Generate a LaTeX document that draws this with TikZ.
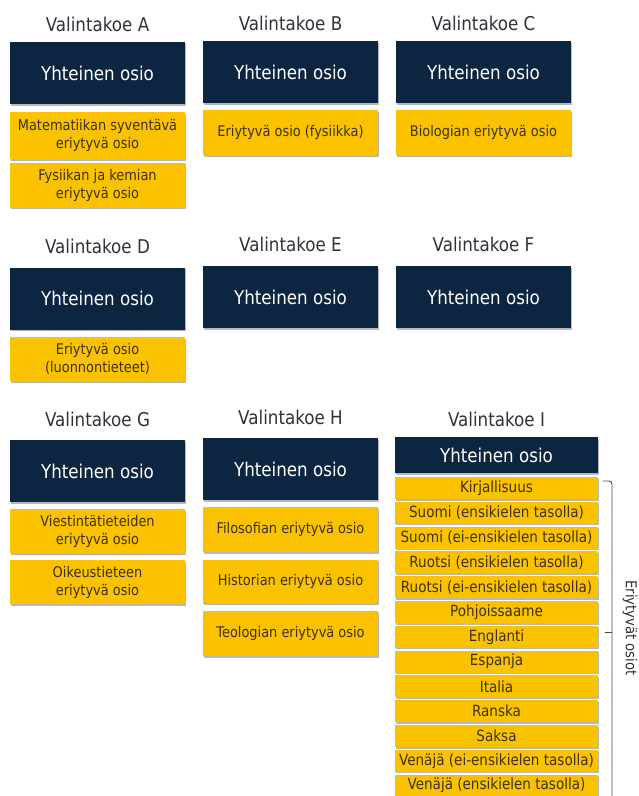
\documentclass[tikz,border=0pt]{standalone}
\usepackage{fontspec}
\setmainfont[FakeStretch=0.88]{DejaVu Sans}
\usetikzlibrary{shadows}
\definecolor{navy}{RGB}{12,38,66}
\definecolor{gold}{RGB}{250,194,0}
\definecolor{goldtext}{RGB}{62,50,18}
\definecolor{titletext}{RGB}{46,50,58}
\definecolor{bracecol}{RGB}{70,70,70}
\tikzset{
  sh/.style={drop shadow={shadow xshift=0.8pt, shadow yshift=-1.6pt, opacity=0.28, fill=black}},
  title/.style={text=titletext, inner sep=0pt, font=\fontsize{19}{22}\selectfont},
  common/.style={sh, fill=navy, text=white, minimum width=175pt, minimum height=62pt,
    inner sep=0pt, font=\fontsize{19}{22}\selectfont},
  part/.style={sh, fill=gold, text=goldtext, minimum width=175pt, inner sep=0pt,
    align=center, font=\fontsize{14.7}{18}\selectfont},
  irow/.style={sh, fill=gold, text=goldtext, minimum width=203pt, minimum height=22pt,
    inner sep=0pt, font=\fontsize{15.4}{18}\selectfont},
  brace/.style={draw=bracecol, line width=0.9pt}
}
\begin{document}
\begin{tikzpicture}[x=1pt,y=-1pt]
\useasboundingbox (0,0) rectangle (639,796);
% Row 1
\node[title] (tA) at (97.5,24) {Valintakoe A};
\node[title] (tB) at (290.5,23) {Valintakoe B};
\node[title] (tC) at (483.5,23) {Valintakoe C};
\node[common] (cA) at (97.5,73) {Yhteinen osio};
\node[common] (cB) at (290.5,72) {Yhteinen osio};
\node[common] (cC) at (483.5,72) {Yhteinen osio};
\node[part, minimum height=47pt] (a1) at (97.5,135.5) {Matematiikan syventävä\\eriytyvä osio};
\node[part, minimum height=45pt] (a2) at (97.5,185) {Fysiikan ja kemian\\eriytyvä osio};
\node[part, minimum height=45pt] (b1) at (290.5,132.5) {Eriytyvä osio (fysiikka)};
\node[part, minimum height=45pt] (c1) at (483.5,132.5) {Biologian eriytyvä osio};
% Row 2
\node[title] (tD) at (97.5,246) {Valintakoe D};
\node[title] (tE) at (290.5,244) {Valintakoe E};
\node[title] (tF) at (483.5,244) {Valintakoe F};
\node[common] (cD) at (97.5,298.5) {Yhteinen osio};
\node[common] (cE) at (290.5,297) {Yhteinen osio};
\node[common] (cF) at (483.5,297) {Yhteinen osio};
\node[part, minimum height=44pt] (d1) at (97.5,359) {Eriytyvä osio\\(luonnontieteet)};
% Row 3
\node[title] (tG) at (97.5,419) {Valintakoe G};
\node[title] (tH) at (290.5,417) {Valintakoe H};
\node[title] (tI) at (496.5,419) {Valintakoe I};
\node[common] (cG) at (97.5,471) {Yhteinen osio};
\node[common] (cH) at (290.5,469) {Yhteinen osio};
\node[common, minimum width=203pt, minimum height=36pt] (cI) at (496.5,455) {Yhteinen osio};
\node[part, minimum height=44pt] (g1) at (97.5,531) {Viestintätieteiden\\eriytyvä osio};
\node[part, minimum height=44pt] (g2) at (97.5,582) {Oikeustieteen\\eriytyvä osio};
\node[part, minimum height=45pt] (h1) at (290.5,529.5) {Filosofian eriytyvä osio};
\node[part, minimum height=44pt] (h2) at (290.5,581.5) {Historian eriytyvä osio};
\node[part, minimum height=45pt] (h3) at (290.5,633.5) {Teologian eriytyvä osio};
\foreach \t [count=\i from 0] in {Kirjallisuus,
  Suomi (ensikielen tasolla),
  Suomi (ei-ensikielen tasolla),
  Ruotsi (ensikielen tasolla),
  Ruotsi (ei-ensikielen tasolla),
  Pohjoissaame,
  Englanti,
  Espanja,
  Italia,
  Ranska,
  Saksa,
  Venäjä (ei-ensikielen tasolla),
  Venäjä (ensikielen tasolla)}
  \node[irow] (i\i) at (496.5,{488+24.8*\i}) {\t};
% Brace
\coordinate (bt) at (603,481);
\coordinate (bm) at (612,632);
\coordinate (bb) at (612,800);
\draw[brace] (bt) -- (609,481) to[out=0,in=90] (612,484) -- (bb);
\draw[brace] (bm) -- (605,632);
\node[rotate=-90, text=titletext, font=\fontsize{15}{18}\selectfont, inner sep=0pt] (lab) at (630,628) {Eriytyvät osiot};
\end{tikzpicture}
\end{document}
